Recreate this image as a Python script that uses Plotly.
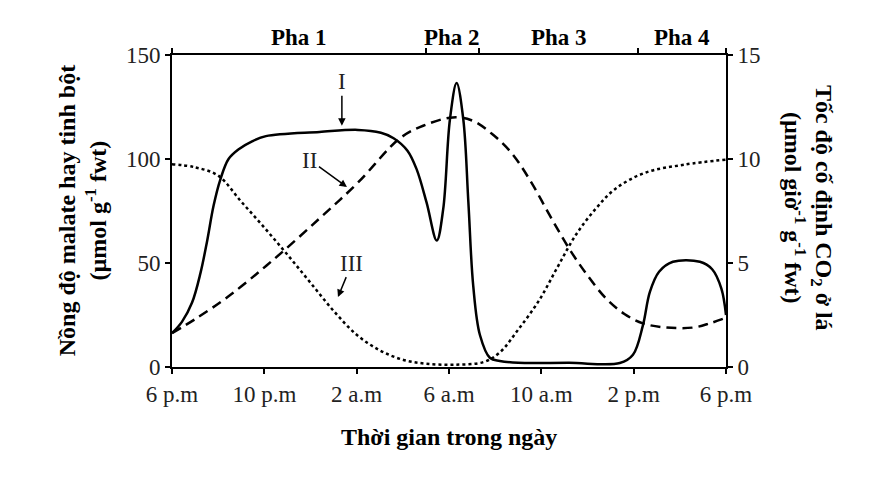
import plotly.graph_objects as go

# Hours after 6 p.m.
hours_I = [0, 0.43, 0.87, 1.23, 1.52, 1.8, 2.09, 2.45, 2.89, 3.47, 4.07, 6.39, 8.06,
           9.05, 9.6, 10.2, 10.6, 11.03, 11.47, 11.75, 12.04, 12.33, 12.62, 12.84, 13.05,
           13.34, 13.78, 14.2, 15.0, 17.2, 19.4, 19.97, 20.4, 20.7, 21.1, 21.7, 22.87,
           23.4, 23.8, 24]
# Curve I: CO2 fixation rate (right axis)
co2_rate = [1.63, 2.17, 3.1, 4.5, 6.05, 7.75, 9.0, 10.0, 10.47, 10.85, 11.1, 11.3, 11.4,
            11.26, 11.0, 10.4, 9.5, 7.9, 6.08, 7.6, 11.9, 13.65, 11.9, 7.9, 3.9,
            1.54, 0.43, 0.29, 0.2, 0.2, 0.19, 0.59, 2.0, 3.6, 4.58, 5.06, 5.06,
            4.7, 3.77, 2.5]

hours_II = [0, 1.0, 2.45, 4.33, 6.39, 8.06, 9.88, 10.88, 12.17, 13.0, 13.87, 14.7, 15.5,
            16.36, 17.2, 18.0, 18.8, 19.6, 20.4, 21.4, 22.6, 23.3, 24]
# Curve II: malate (left axis)
malate = [16.3, 23, 34, 51, 71.4, 88.7, 110, 116, 120, 118.5, 112, 103, 90,
          73, 57, 44, 33, 25.5, 21, 19, 19, 21, 23.7]

hours_III = [0, 1, 2, 3, 4, 5, 6, 7, 8, 9, 10, 11,
             12.2, 13.5, 14.2, 15.0, 15.9, 16.7, 17.5, 18.35, 19.2, 20.5, 22.2, 24]
# Curve III: starch (left axis)
starch = [97.5, 96, 92, 79.5, 67, 54, 40.5, 27, 15.5, 8, 3.5, 1.6,
          1.1, 2.4, 7, 18, 32, 48, 63.6, 76, 85.6, 93.4, 97.3, 99.7]

time_ticks = [0, 4, 8, 12, 16, 20, 24]
time_labels = ['6 p.m', '10 p.m', '2 a.m', '6 a.m', '10 a.m', '2 p.m', '6 p.m']
phase_bounds = [0, 11, 13.3, 20.2, 24]
phase_names = ['Pha 1', 'Pha 2', 'Pha 3', 'Pha 4']

FONT = 'Liberation Serif'
line_w = 2.5

fig = go.Figure()

fig.add_trace(go.Scatter(x=hours_II, y=malate, mode='lines', line_shape='spline',
                         line=dict(color='black', width=line_w, dash='10px,6px')))
fig.add_trace(go.Scatter(x=hours_III, y=starch, mode='lines', line_shape='spline',
                         line=dict(color='black', width=line_w, dash='dot')))
fig.add_trace(go.Scatter(x=hours_I, y=co2_rate, mode='lines', line_shape='spline',
                         yaxis='y2', line=dict(color='black', width=line_w)))
# invisible trace so the top axis is drawn
fig.add_trace(go.Scatter(x=[0, 24], y=[0, 0], xaxis='x2', mode='lines',
                         line=dict(width=0), hoverinfo='skip'))

axis_common = dict(showline=True, linecolor='black', linewidth=2, ticks='outside',
                   ticklen=5, tickcolor='black', tickwidth=2, showgrid=False,
                   zeroline=False, tickfont=dict(family=FONT, size=23, color='#222'))

# the page adds an 8px body margin, so the figure is a bit smaller than the window
fig.update_layout(
    width=879, height=471,
    margin=dict(l=164, r=161, t=47, b=112),
    paper_bgcolor='white', plot_bgcolor='white',
    showlegend=False,
    xaxis=dict(range=[0, 24], tickvals=time_ticks, ticktext=time_labels, **axis_common),
    xaxis2=dict(range=[0, 24], overlaying='x', side='top', anchor='y',
                tickvals=phase_bounds, showticklabels=False, **axis_common),
    yaxis=dict(range=[0, 150], tickvals=[0, 50, 100, 150], **axis_common),
    yaxis2=dict(range=[0, 15], tickvals=[0, 5, 10, 15], overlaying='y', side='right',
                **axis_common),
)

# phase labels
for i, name in enumerate(phase_names):
    fig.add_annotation(x=(phase_bounds[i] + phase_bounds[i + 1]) / 2, y=1, xref='x',
                       yref='paper', yanchor='bottom', yshift=3, text=f'<b>{name}</b>',
                       showarrow=False, font=dict(family=FONT, size=23, color='black'))

# curve labels with arrows
labels = [('I', 7.36, 116, 0, -44), ('II', 7.58, 86.5, -37, -27), ('III', 7.19, 33.6, 14, -34)]
for txt, x, y, ax, ay in labels:
    fig.add_annotation(x=x, y=y, xref='x', yref='y', text=txt, showarrow=True,
                       arrowhead=2, arrowsize=1, arrowwidth=1.5, arrowcolor='black',
                       ax=ax, ay=ay, font=dict(family=FONT, size=23, color='#222'))

# axis titles
fig.add_annotation(x=-0.162, y=0.5, xref='paper', yref='paper', textangle=-90,
                   xanchor='center', yanchor='middle',
                   text='<b>Nồng độ malate hay tinh bột<br>(µmol g<sup>-1</sup> fwt)</b>',
                   showarrow=False, font=dict(family=FONT, size=24, color='black'))
fig.add_annotation(x=1.148, y=0.51, xref='paper', yref='paper', textangle=90,
                   xanchor='center', yanchor='middle',
                   text='<b>Tốc độ cố định CO<sub>2</sub> ở lá<br>(µmol giờ<sup>-1</sup> g<sup>-1</sup> fwt)</b>',
                   showarrow=False, font=dict(family=FONT, size=24, color='black'))
fig.add_annotation(x=0.5, y=-0.224, xref='paper', yref='paper',
                   xanchor='center', yanchor='middle',
                   text='<b>Thời gian trong ngày</b>', showarrow=False,
                   font=dict(family=FONT, size=24, color='black'))

fig.write_html('out.html')
